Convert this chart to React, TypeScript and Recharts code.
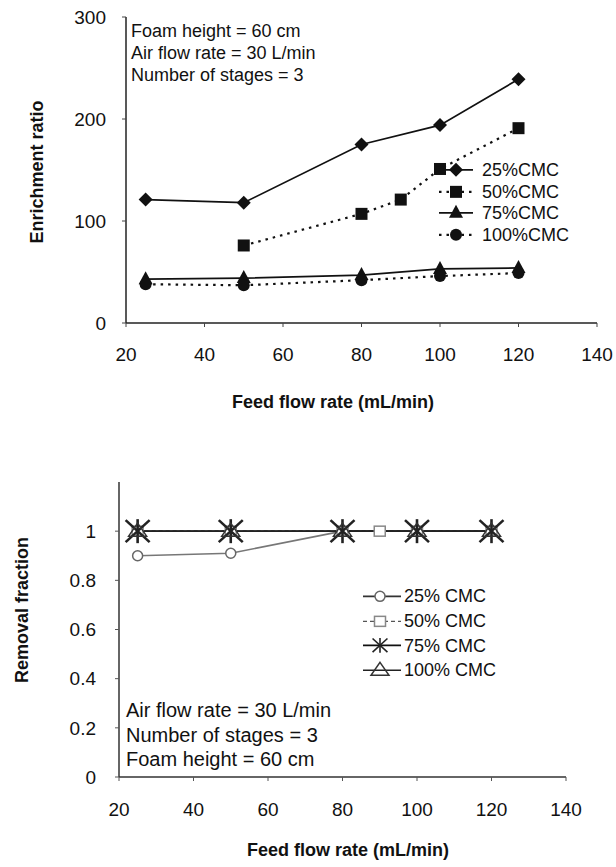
import React from 'react';
import { LineChart, Line, XAxis, YAxis, Legend } from 'recharts';

// top chart: enrichment ratio vs feed flow rate
const feedRate = [25, 50, 80, 100, 120];
const feedRate50 = [50, 80, 90, 100, 120];
const enrich25 = [121, 118, 175, 194, 239];
const enrich50 = [76, 107, 121, 151, 191];
const enrich75 = [43, 44, 47, 53, 54];
const enrich100 = [38, 37, 42, 46, 49];
const xTicks = [20, 40, 60, 80, 100, 120, 140];
const enrichTicks = [0, 100, 200, 300];

// bottom chart: removal fraction vs feed flow rate
const feedRateB50 = [25, 50, 80, 90, 100, 120];
const removal25 = [0.9, 0.91, 1, 1, 1];
const removal50 = [1, 1, 1, 1, 1, 1];
const removal75 = [1, 1, 1, 1, 1];
const removal100 = [1, 1, 1, 1, 1];
const removalTicks = [0, 0.2, 0.4, 0.6, 0.8, 1];

const zip = (xs: number[], ys: number[]) => xs.map((x, i) => ({ x, y: ys[i] }));

type Shape =
  | 'diamond'
  | 'square'
  | 'triangle'
  | 'circle'
  | 'openCircle'
  | 'openSquare'
  | 'star'
  | 'openTriangle';

function Marker({ shape, cx, cy, k = 1 }: { shape: Shape; cx: number; cy: number; k?: number }) {
  switch (shape) {
    case 'diamond':
      return <polygon points={`${cx},${cy - 7} ${cx + 7},${cy} ${cx},${cy + 7} ${cx - 7},${cy}`} fill="#111" />;
    case 'square':
      return <rect x={cx - 6} y={cy - 6} width={12} height={12} fill="#111" />;
    case 'triangle':
      return <polygon points={`${cx},${cy - 8} ${cx + 7},${cy + 5} ${cx - 7},${cy + 5}`} fill="#111" />;
    case 'circle':
      return <circle cx={cx} cy={cy} r={6} fill="#111" />;
    case 'openCircle':
      return <circle cx={cx} cy={cy} r={5} fill="#fff" stroke="#666" strokeWidth={1.5} />;
    case 'openSquare':
      return <rect x={cx - 5.5} y={cy - 5} width={11} height={10} fill="#fff" stroke="#888" strokeWidth={1.5} />;
    case 'openTriangle':
      return (
        <polygon
          points={`${cx},${cy - 8} ${cx + 9},${cy + 5} ${cx - 9},${cy + 5}`}
          fill="none"
          stroke="#333"
          strokeWidth={1.5}
        />
      );
    case 'star':
      return (
        <g stroke="#222" strokeWidth={2.6 * k}>
          <line x1={cx - 12 * k} y1={cy - 11 * k} x2={cx + 12 * k} y2={cy + 11 * k} />
          <line x1={cx - 12 * k} y1={cy + 11 * k} x2={cx + 12 * k} y2={cy - 11 * k} />
          <line x1={cx} y1={cy - 12 * k} x2={cx} y2={cy + 12 * k} />
        </g>
      );
  }
  return null;
}

interface SeriesDef {
  id: string;
  name: string;
  data: { x: number; y: number }[];
  stroke: string;
  width: number;
  dash?: string;
  shape: Shape;
}

const TOP_SERIES: SeriesDef[] = [
  { id: 't25', name: '25%CMC', data: zip(feedRate, enrich25), stroke: '#111', width: 1.7, shape: 'diamond' },
  { id: 't50', name: '50%CMC', data: zip(feedRate50, enrich50), stroke: '#111', width: 2.2, dash: '2.5 5', shape: 'square' },
  { id: 't75', name: '75%CMC', data: zip(feedRate, enrich75), stroke: '#111', width: 1.7, shape: 'triangle' },
  { id: 't100', name: '100%CMC', data: zip(feedRate, enrich100), stroke: '#111', width: 2.2, dash: '2.5 5', shape: 'circle' },
];

const BOTTOM_SERIES: SeriesDef[] = [
  { id: 'b25', name: '25% CMC', data: zip(feedRate, removal25), stroke: '#777', width: 1.6, shape: 'openCircle' },
  { id: 'b50', name: '50% CMC', data: zip(feedRateB50, removal50), stroke: '#555', width: 1.3, dash: '4 3', shape: 'openSquare' },
  { id: 'b75', name: '75% CMC', data: zip(feedRate, removal75), stroke: '#111', width: 1.8, shape: 'star' },
  { id: 'b100', name: '100% CMC', data: zip(feedRate, removal100), stroke: '#222', width: 1.5, shape: 'openTriangle' },
];

function LegendBox({
  items,
  rowH,
  iconW,
  gap,
  markerX,
}: {
  items: SeriesDef[];
  rowH: number;
  iconW: number;
  gap: number;
  markerX: number;
}) {
  return (
    <div>
      {items.map((s) => (
        <div key={s.id} style={{ display: 'flex', alignItems: 'center', height: rowH }}>
          <svg width={iconW} height={rowH} style={{ overflow: 'visible' }}>
            <line
              x1={1}
              x2={iconW - 1}
              y1={rowH / 2}
              y2={rowH / 2}
              stroke={s.stroke === '#777' ? '#333' : s.stroke}
              strokeWidth={s.width}
              strokeDasharray={s.dash}
            />
            <Marker shape={s.shape} cx={markerX} cy={rowH / 2} k={0.62} />
          </svg>
          <span style={{ marginLeft: gap, fontSize: 18, color: '#111', lineHeight: 1 }}>{s.name}</span>
        </div>
      ))}
    </div>
  );
}

const tickStyle = { fill: '#111', fontSize: 19 };

function renderLines(series: SeriesDef[]) {
  return series.map((s) => (
    <Line
      key={s.id}
      data={s.data}
      dataKey="y"
      name={s.name}
      type="linear"
      stroke={s.stroke}
      strokeWidth={s.width}
      strokeDasharray={s.dash}
      isAnimationActive={false}
      dot={(p: any) => <Marker key={`${s.id}-${p.index}`} shape={s.shape} cx={p.cx} cy={p.cy} />}
      activeDot={false}
      legendType="none"
    />
  ));
}

export default function App() {
  return (
    <div
      style={{
        position: 'absolute',
        left: 0,
        top: 0,
        width: 616,
        height: 867,
        background: '#fff',
        fontFamily: '"Liberation Sans", Arial, sans-serif',
      }}
    >
      <div style={{ position: 'absolute', left: 0, top: 0 }}>
        <LineChart width={616} height={420} margin={{ top: 17, right: 19, left: 0, bottom: 0 }}>
          <XAxis
            dataKey="x"
            type="number"
            domain={[20, 140]}
            ticks={xTicks}
            height={97}
            tickSize={4}
            tickMargin={21}
            tick={tickStyle}
            axisLine={{ stroke: '#222', strokeWidth: 1.5 }}
            tickLine={{ stroke: '#444' }}
            allowDataOverflow
          />
          <XAxis xAxisId="top" orientation="top" type="number" domain={[20, 140]} height={0} tick={false} tickLine={false} axisLine={{ stroke: '#999' }} />
          <YAxis
            type="number"
            domain={[0, 300]}
            ticks={enrichTicks}
            width={126}
            tickSize={4}
            tickMargin={16}
            tick={tickStyle}
            axisLine={{ stroke: '#222', strokeWidth: 1.5 }}
            tickLine={{ stroke: '#444' }}
          />
          <YAxis yAxisId="right" orientation="right" width={0} tick={false} tickLine={false} axisLine={{ stroke: '#999' }} />
          {renderLines(TOP_SERIES)}
          <Legend
            layout="vertical"
            align="center"
            verticalAlign="middle"
            wrapperStyle={{ left: 438, top: 159, width: 150, height: 90 }}
            content={() => <LegendBox items={TOP_SERIES} rowH={21.7} iconW={36} gap={8} markerX={18} />}
          />
        </LineChart>
      </div>

      <div style={{ position: 'absolute', left: 0, top: 420 }}>
        <LineChart width={616} height={447} margin={{ top: 62, right: 50, left: 0, bottom: 0 }}>
          <XAxis
            dataKey="x"
            type="number"
            domain={[20, 140]}
            ticks={xTicks}
            height={90}
            tickSize={4}
            tickMargin={22}
            tick={tickStyle}
            axisLine={{ stroke: '#333', strokeWidth: 1.5 }}
            tickLine={{ stroke: '#555' }}
            allowDataOverflow
          />
          <XAxis xAxisId="top" orientation="top" type="number" domain={[20, 140]} height={0} tick={false} tickLine={false} axisLine={{ stroke: '#444', strokeWidth: 1.3 }} />
          <YAxis
            type="number"
            domain={[0, 1.2]}
            ticks={removalTicks}
            width={119}
            tickSize={4}
            tickMargin={19}
            tick={tickStyle}
            axisLine={{ stroke: '#333', strokeWidth: 1.5 }}
            tickLine={{ stroke: '#555' }}
          />
          <YAxis yAxisId="right" orientation="right" width={0} tick={false} tickLine={false} axisLine={{ stroke: '#444', strokeWidth: 1.3 }} />
          {renderLines(BOTTOM_SERIES)}
          <Legend
            layout="vertical"
            align="center"
            verticalAlign="middle"
            wrapperStyle={{ left: 362, top: 164, width: 160, height: 100 }}
            content={() => <LegendBox items={BOTTOM_SERIES} rowH={24.7} iconW={40} gap={2} markerX={18} />}
          />
        </LineChart>
      </div>

      {/* titles and notes */}
      <svg width={616} height={867} style={{ position: 'absolute', left: 0, top: 0, pointerEvents: 'none' }}>
        <g fill="#111" fontSize={18}>
          <text x={131} y={37}>Foam height = 60 cm</text>
          <text x={131} y={59}>Air flow rate = 30 L/min</text>
          <text x={131} y={81}>Number of stages = 3</text>
        </g>
        <g fill="#111" fontSize={20}>
          <text x={126} y={717}>Air flow rate = 30 L/min</text>
          <text x={126} y={741.5}>Number of stages = 3</text>
          <text x={126} y={766}>Foam height = 60 cm</text>
        </g>
        <g fill="#111" fontSize={18} fontWeight="bold" textAnchor="middle">
          <text x={333} y={408}>Feed flow rate (mL/min)</text>
          <text transform="translate(43,172) rotate(-90)">Enrichment ratio</text>
          <text x={348} y={856}>Feed flow rate (mL/min)</text>
          <text transform="translate(28,610) rotate(-90)">Removal fraction</text>
        </g>
      </svg>
    </div>
  );
}
